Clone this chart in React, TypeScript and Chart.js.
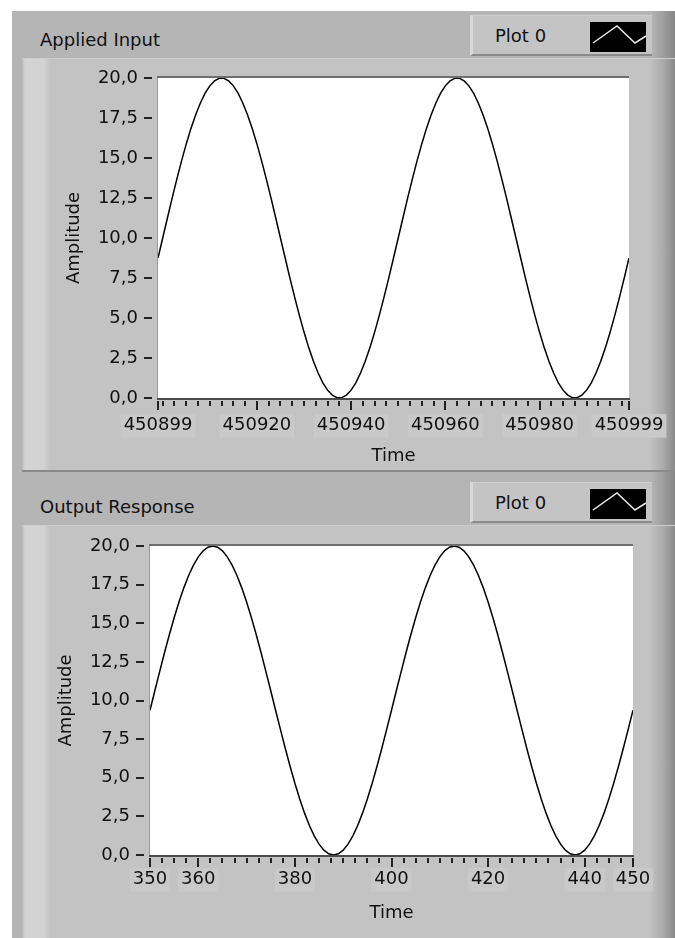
import React, { useEffect, useRef } from 'react';
import { Chart, registerables } from 'chart.js';

Chart.register(...registerables);

const FONT_FAMILY = '"DejaVu Sans", Verdana, sans-serif';
const TEXT_COLOR = '#111111';
const FONT_SIZE = 18;

// Amplitude axis shared by both graphs
const AMPLITUDE_TICKS = [0, 2.5, 5, 7.5, 10, 12.5, 15, 17.5, 20];
const MINOR_TIME_STEP = 2.5;

// Applied Input: one sample per time step from 450899 to 450999
const INPUT_START = 450899;
const INPUT_END = 450999;
const INPUT_TIME_LABELS = [450899, 450920, 450940, 450960, 450980, 450999];
const INPUT_AMPLITUDE = [
  8.75, 10.0, 11.25, 12.49, 13.68, 14.82, 15.88, 16.85, 17.71, 18.44, 19.05, 19.51, 19.82, 19.98,
  19.98, 19.82, 19.51, 19.05, 18.44, 17.71, 16.85, 15.88, 14.82, 13.68, 12.49, 11.25, 10.0, 8.75,
  7.51, 6.32, 5.18, 4.12, 3.15, 2.29, 1.56, 0.95, 0.49, 0.18, 0.02,
  0.02, 0.18, 0.49, 0.95, 1.56, 2.29, 3.15, 4.12, 5.18, 6.32, 7.51, 8.75, 10.0, 11.25, 12.49,
  13.68, 14.82, 15.88, 16.85, 17.71, 18.44, 19.05, 19.51, 19.82, 19.98,
  19.98, 19.82, 19.51, 19.05, 18.44, 17.71, 16.85, 15.88, 14.82, 13.68, 12.49, 11.25, 10.0, 8.75,
  7.51, 6.32, 5.18, 4.12, 3.15, 2.29, 1.56, 0.95, 0.49, 0.18, 0.02,
  0.02, 0.18, 0.49, 0.95, 1.56, 2.29, 3.15, 4.12, 5.18, 6.32, 7.51, 8.75,
];

// Output Response: one sample per time step from 350 to 450
const OUTPUT_START = 350;
const OUTPUT_END = 450;
const OUTPUT_TIME_LABELS = [350, 360, 380, 400, 420, 440, 450];
const OUTPUT_AMPLITUDE = [
  9.37, 10.63, 11.87, 13.09, 14.26, 15.36, 16.37, 17.29, 18.09, 18.76, 19.3, 19.69, 19.92, 20.0,
  19.92, 19.69, 19.3, 18.76, 18.09, 17.29, 16.37, 15.36, 14.26, 13.09, 11.87, 10.63, 9.37, 8.13,
  6.91, 5.74, 4.64, 3.63, 2.71, 1.91, 1.24, 0.7, 0.31, 0.08, 0.0,
  0.08, 0.31, 0.7, 1.24, 1.91, 2.71, 3.63, 4.64, 5.74, 6.91, 8.13, 9.37, 10.63, 11.87, 13.09,
  14.26, 15.36, 16.37, 17.29, 18.09, 18.76, 19.3, 19.69, 19.92, 20.0,
  19.92, 19.69, 19.3, 18.76, 18.09, 17.29, 16.37, 15.36, 14.26, 13.09, 11.87, 10.63, 9.37, 8.13,
  6.91, 5.74, 4.64, 3.63, 2.71, 1.91, 1.24, 0.7, 0.31, 0.08, 0.0,
  0.08, 0.31, 0.7, 1.24, 1.91, 2.71, 3.63, 4.64, 5.74, 6.91, 8.13, 9.37,
];

type GraphSpec = {
  title: string;
  start: number;
  end: number;
  timeLabels: number[];
  amplitude: number[];
  canvasH: number;
  plotTop: number;
  plotBottom: number;
  yAxisWidth: number;
  yTitleGap: number;
  rightPad: number;
  xLabelGap: number;
  xTitleGap: number;
};

const INPUT_GRAPH: GraphSpec = {
  title: 'Applied Input',
  start: INPUT_START,
  end: INPUT_END,
  timeLabels: INPUT_TIME_LABELS,
  amplitude: INPUT_AMPLITUDE,
  canvasH: 412,
  plotTop: 20,
  plotBottom: 340,
  yAxisWidth: 136,
  yTitleGap: 42,
  rightPad: 46,
  xLabelGap: 17,
  xTitleGap: 3,
};

const OUTPUT_GRAPH: GraphSpec = {
  title: 'Output Response',
  start: OUTPUT_START,
  end: OUTPUT_END,
  timeLabels: OUTPUT_TIME_LABELS,
  amplitude: OUTPUT_AMPLITUDE,
  canvasH: 413,
  plotTop: 21,
  plotBottom: 330,
  yAxisWidth: 128,
  yTitleGap: 34,
  rightPad: 42,
  xLabelGap: 14,
  xTitleGap: 14,
};

const CANVAS_W = 653;

// White plot surface, sunken edges, axis line and tick marks in the LabVIEW style
const labviewAxes = {
  id: 'labviewAxes',
  beforeDraw(chart: any) {
    const { ctx, chartArea: a } = chart;
    ctx.save();
    ctx.fillStyle = '#ffffff';
    ctx.fillRect(a.left, a.top, a.right - a.left, a.bottom - a.top);
    ctx.restore();
  },
  afterDraw(chart: any, _args: any, opts: any) {
    const { ctx, chartArea: a } = chart;
    const xs = chart.scales.x;
    const ys = chart.scales.y;
    const major: number[] = opts.major || [];
    const step: number = opts.minorStep || 2.5;
    const left = Math.round(a.left);
    const right = Math.round(a.right);
    const top = Math.round(a.top);
    const bottom = Math.round(a.bottom);
    ctx.save();
    ctx.fillStyle = '#6f6f6f';
    ctx.fillRect(left - 1, top - 2, right - left + 1, 2);
    ctx.fillStyle = '#9c9c9c';
    ctx.fillRect(left - 1, top, 1, bottom - top);
    ctx.fillStyle = '#4c4c4c';
    ctx.fillRect(left - 1, bottom, right - left + 2, 2);

    ctx.fillStyle = '#222222';
    for (let v = Math.ceil(xs.min / step) * step; v <= xs.max + 1e-9; v += step) {
      if (major.includes(v)) continue;
      const px = Math.round(xs.getPixelForValue(v));
      ctx.fillRect(px - 1, bottom + 3, 2, 5);
    }
    for (const v of major) {
      const px = Math.round(xs.getPixelForValue(v));
      ctx.fillRect(px - 1, bottom + 3, 2, 9);
    }
    for (const t of ys.ticks) {
      const py = Math.round(ys.getPixelForValue(t.value));
      ctx.fillRect(left - 14, py - 1, 8, 2);
    }
    ctx.restore();
  },
};

function buildConfig(spec: GraphSpec): any {
  const font = { family: FONT_FAMILY, size: FONT_SIZE };
  const points = spec.amplitude.map((v, i) => ({ x: spec.start + i, y: v }));
  return {
    type: 'line',
    data: {
      datasets: [
        {
          label: 'Plot 0',
          data: points,
          borderColor: '#000000',
          borderWidth: 1.5,
          pointRadius: 0,
          fill: false,
          tension: 0,
        },
      ],
    },
    plugins: [labviewAxes],
    options: {
      responsive: false,
      animation: false,
      events: [],
      layout: { padding: { left: 0, top: spec.plotTop, right: spec.rightPad, bottom: 0 } },
      plugins: {
        legend: { display: false },
        tooltip: { enabled: false },
        labviewAxes: { major: spec.timeLabels, minorStep: MINOR_TIME_STEP },
      },
      scales: {
        x: {
          type: 'linear',
          min: spec.start,
          max: spec.end,
          afterBuildTicks: (s: any) => {
            s.ticks = spec.timeLabels.map((v) => ({ value: v }));
          },
          afterFit: (s: any) => {
            s.height = spec.canvasH - spec.plotBottom;
            s.paddingLeft = 0;
            s.paddingRight = 0;
          },
          grid: { display: false, drawTicks: false },
          border: { display: false },
          ticks: {
            padding: spec.xLabelGap,
            autoSkip: false,
            maxRotation: 0,
            color: TEXT_COLOR,
            font,
            showLabelBackdrop: true,
            backdropColor: '#c9c9c9',
            backdropPadding: { top: 1, bottom: 1, left: 3, right: 3 },
            callback: (v: any) => String(v),
          },
          title: {
            display: true,
            text: 'Time',
            color: TEXT_COLOR,
            font,
            padding: { top: 0, bottom: spec.xTitleGap },
          },
        },
        y: {
          type: 'linear',
          min: 0,
          max: 20,
          afterBuildTicks: (s: any) => {
            s.ticks = AMPLITUDE_TICKS.map((v) => ({ value: v }));
          },
          afterFit: (s: any) => {
            s.width = spec.yAxisWidth;
            s.paddingTop = 0;
            s.paddingBottom = 0;
          },
          grid: { display: false, drawTicks: false },
          border: { display: false },
          ticks: {
            padding: 20,
            color: TEXT_COLOR,
            font,
            callback: (v: any) => Number(v).toFixed(1).replace('.', ','),
          },
          title: {
            display: true,
            text: 'Amplitude',
            color: TEXT_COLOR,
            font,
            padding: { top: spec.yTitleGap, bottom: 0 },
          },
        },
      },
    },
  };
}

function GraphCanvas({ spec, top }: { spec: GraphSpec; top: number }) {
  const ref = useRef<HTMLCanvasElement>(null);
  useEffect(() => {
    if (!ref.current) return;
    const chart = new Chart(ref.current, buildConfig(spec));
    return () => chart.destroy();
  }, [spec]);
  return (
    <canvas
      ref={ref}
      width={CANVAS_W}
      height={spec.canvasH}
      style={{ position: 'absolute', left: 22, top, display: 'block' }}
    />
  );
}

function LegendBox({ top }: { top: number }) {
  return (
    <div
      style={{
        position: 'absolute',
        left: 470,
        top,
        width: 182,
        height: 41,
        boxSizing: 'border-box',
        background: '#c4c4c4',
        borderLeft: '3px solid #d9d9d9',
        borderTop: '1px solid #cfcfcf',
        borderBottom: '2px solid #8a8a8a',
      }}
    >
      <div
        style={{
          position: 'absolute',
          left: 22,
          top: 9,
          fontFamily: FONT_FAMILY,
          fontSize: FONT_SIZE,
          lineHeight: '22px',
          color: TEXT_COLOR,
          whiteSpace: 'nowrap',
        }}
      >
        Plot 0
      </div>
      <svg
        width={56}
        height={30}
        style={{ position: 'absolute', left: 117, top: 6, background: '#000' }}
      >
        <polyline
          points="3,21 27,4 45,21 56,14"
          fill="none"
          stroke="#e8e8e8"
          strokeWidth={1.5}
        />
      </svg>
    </div>
  );
}

function GraphPanel({ spec, offset }: { spec: GraphSpec; offset: number }) {
  return (
    <>
      <div
        style={{
          position: 'absolute',
          left: 40,
          top: 29 + offset,
          fontFamily: FONT_FAMILY,
          fontSize: FONT_SIZE,
          lineHeight: '22px',
          color: TEXT_COLOR,
          whiteSpace: 'nowrap',
        }}
      >
        {spec.title}
      </div>
      <LegendBox top={15 + offset} />
      <div
        style={{
          position: 'absolute',
          left: 22,
          top: 58 + offset,
          width: 653,
          height: spec.canvasH + 2,
          boxSizing: 'border-box',
          borderTop: '1px solid #cdcdcd',
          borderBottom: '2px solid #8a8a8a',
          background:
            'linear-gradient(to right, #bababa 0px, #d4d4d4 3px, #d2d2d2 22px, #c3c3c3 28px, #c3c3c3 calc(100% - 26px), #ababab calc(100% - 12px), #8a8a8a 100%)',
        }}
      />
      <GraphCanvas spec={spec} top={58 + offset} />
    </>
  );
}

export default function App() {
  return (
    <div
      style={{
        position: 'absolute',
        left: 0,
        top: 0,
        width: 675,
        height: 938,
        background: '#ffffff',
        overflow: 'hidden',
      }}
    >
      <div
        style={{
          position: 'absolute',
          left: 12,
          top: 11,
          width: 663,
          height: 927,
          background:
            'linear-gradient(to right, #b5b5b5 0px, #b5b5b5 calc(100% - 24px), #9a9a9a calc(100% - 10px), #868686 100%)',
        }}
      />
      <GraphPanel spec={INPUT_GRAPH} offset={0} />
      <GraphPanel spec={OUTPUT_GRAPH} offset={467} />
    </div>
  );
}
